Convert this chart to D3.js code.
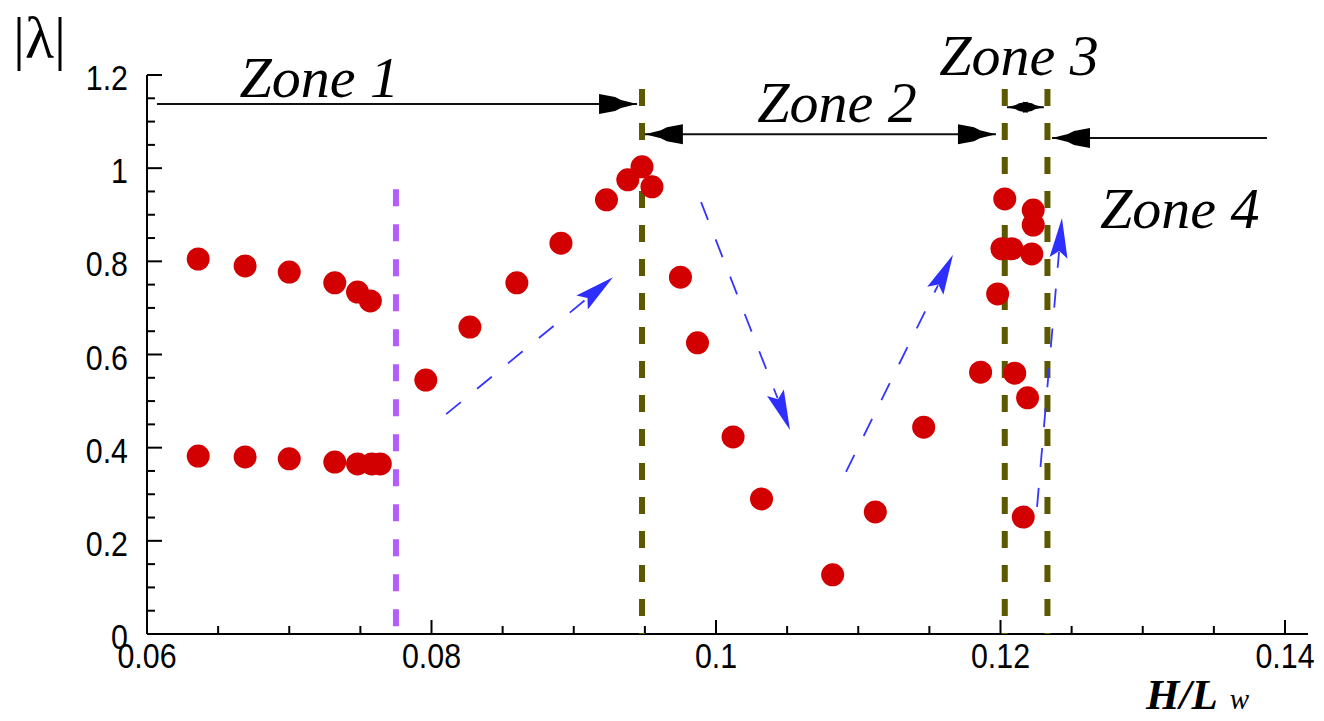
<!DOCTYPE html>
<html><head><meta charset="utf-8">
<script src="https://cdn.jsdelivr.net/npm/d3@7"></script>
<style>body{margin:0;background:#fff}svg{display:block}</style>
</head><body><svg id="c" width="1324" height="721"></svg>
<script>
// ---- data ----
const xTicks = [0.06, 0.08, 0.10, 0.12, 0.14];
const xTickLabels = ["0.06", "0.08", "0.1", "0.12", "0.14"];
const yTicks = [0, 0.2, 0.4, 0.6, 0.8, 1.0, 1.2];
const yTickLabels = ["0", "0.2", "0.4", "0.6", "0.8", "1", "1.2"];

const lowerX = [0.0636, 0.0669, 0.0700, 0.0732, 0.0748, 0.0758, 0.0764];
const lowerY = [0.382, 0.380, 0.376, 0.369, 0.365, 0.365, 0.365];

const upperX = [0.0636, 0.0669, 0.0700, 0.0732, 0.0748, 0.0757];
const upperY = [0.805, 0.790, 0.777, 0.754, 0.734, 0.715];

const mainX = [0.0796, 0.0827, 0.0860, 0.0891, 0.0923, 0.0938, 0.0948, 0.0955,
               0.0975, 0.0987, 0.1012, 0.1032, 0.1082, 0.1112, 0.1146, 0.1186,
               0.1198, 0.1203, 0.1201, 0.1208, 0.1210, 0.1219, 0.1216, 0.1223,
               0.1223, 0.1222];
const mainY = [0.545, 0.659, 0.754, 0.839, 0.932, 0.975, 1.003, 0.960,
               0.766, 0.625, 0.423, 0.290, 0.127, 0.262, 0.444, 0.562,
               0.730, 0.934, 0.827, 0.827, 0.560, 0.507, 0.251, 0.910,
               0.878, 0.816];

const purpleLineX = [0.0775];
const purpleLineTop = [0.955];
const zoneBoundX = [0.0948, 0.1203, 0.1233];
const zoneBoundTop = 1.17;

const zoneNames = ["Zone 1", "Zone 2", "Zone 3", "Zone 4"];
const zoneLabelX = [0.0665, 0.1029, 0.1157, 0.1270];
const zoneLabelY = [1.153, 1.099, 1.200, 0.872];

// zone arrows: [x0, x1, y, headAtStart, headAtEnd, headScale]
const zoneArrows = [
  [0.0607, 0.09445, 1.138, false, true, 1],
  [0.0950, 0.11968, 1.073, true, true, 1],
  [0.12045, 0.12305, 1.131, true, true, 0.55],
  [0.13873, 0.12362, 1.065, false, true, 1]
];
// trend arrows: [x0, y0, x1, y1]
const trendArrows = [
  [0.08103, 0.472, 0.09276, 0.766],
  [0.09895, 0.927, 0.10520, 0.438],
  [0.10914, 0.348, 0.11666, 0.814],
  [0.12257, 0.273, 0.12432, 0.893]
];

// ---- drawing ----
const svg = d3.select("#c");
const x = d3.scaleLinear().domain([0.06, 0.14]).range([147, 1285]);
const y = d3.scaleLinear().domain([0, 1.2]).range([634, 75]);
const axisRight = 1308;

// axis lines
svg.append("line").attr("x1", x(0.06)).attr("x2", axisRight)
  .attr("y1", y(0)).attr("y2", y(0)).attr("stroke", "#000").attr("stroke-width", 2);
svg.append("line").attr("x1", x(0.06)).attr("x2", x(0.06))
  .attr("y1", y(0)).attr("y2", y(1.2)).attr("stroke", "#000").attr("stroke-width", 2);

// x ticks
const xMinor = d3.range(0.06, 0.14001, 0.005);
svg.append("g").selectAll("line").data(xMinor).join("line")
  .attr("x1", d => x(d)).attr("x2", d => x(d))
  .attr("y1", y(0)).attr("y2", (d, i) => y(0) - (i % 4 === 0 ? 14 : 8))
  .attr("stroke", "#000").attr("stroke-width", 2);
svg.append("g").selectAll("text").data(xTicks).join("text")
  .attr("transform", d => `translate(${x(d)},${y(0) + 34}) scale(0.95,1.08)`)
  .attr("text-anchor", "middle")
  .style("font-family", "'Liberation Sans', Arial, sans-serif")
  .style("font-size", "32px")
  .text((d, i) => xTickLabels[i]);

// y ticks
const yMinor = d3.range(0, 1.2001, 0.05);
svg.append("g").selectAll("line").data(yMinor).join("line")
  .attr("x1", x(0.06)).attr("x2", (d, i) => x(0.06) + (i % 4 === 0 ? 15 : 8))
  .attr("y1", d => y(d)).attr("y2", d => y(d))
  .attr("stroke", "#000").attr("stroke-width", 2);
svg.append("g").selectAll("text").data(yTicks).join("text")
  .attr("transform", d => `translate(${x(0.06) - 19},${y(d) + 15}) scale(0.95,1.08)`)
  .attr("text-anchor", "end")
  .style("font-family", "'Liberation Sans', Arial, sans-serif")
  .style("font-size", "32px")
  .text((d, i) => yTickLabels[i]);

// axis titles
svg.append("text").attr("x", 13).attr("y", 58)
  .style("font-family", "'Liberation Serif', 'Times New Roman', serif")
  .style("font-size", "60px")
  .text("|λ|");
const xt = svg.append("text").attr("x", 1146).attr("y", 709)
  .style("font-family", "'Liberation Serif', 'Times New Roman', serif")
  .style("font-style", "italic");
xt.append("tspan").style("font-size", "43px").style("font-weight", "bold").text("H/L");
xt.append("tspan").attr("dx", 12).style("font-size", "29px").text("w");

// vertical dashed lines
svg.append("g").selectAll("line").data(purpleLineX).join("line")
  .attr("x1", d => x(d)).attr("x2", d => x(d))
  .attr("y1", (d, i) => y(purpleLineTop[i])).attr("y2", y(0))
  .attr("stroke", "#b35cff").attr("stroke-width", 6)
  .attr("stroke-dasharray", "17,18");
svg.append("g").selectAll("line").data(zoneBoundX).join("line")
  .attr("x1", d => x(d)).attr("x2", d => x(d))
  .attr("y1", y(zoneBoundTop)).attr("y2", y(0))
  .attr("stroke", "#5c5800").attr("stroke-width", 6)
  .attr("stroke-dasharray", "17,17");

// arrowhead helper
function head(g, tx, ty, ang, shape, color, s) {
  const pts = shape.map(([px, py]) => {
    const X = px * s, Y = py * s;
    return [tx + X * Math.cos(ang) - Y * Math.sin(ang), ty + X * Math.sin(ang) + Y * Math.cos(ang)];
  });
  g.append("polygon").attr("points", pts.map(p => p.join(",")).join(" ")).attr("fill", color);
}
const blackHead = [[0, 0], [-16, -4], [-22, -7], [-38, -10], [-38, 10], [-22, 7], [-16, 4]];
const blueHead = [[0, 0], [-40, -9], [-33, 0], [-40, 9]];

// zone arrows
const za = svg.append("g");
zoneArrows.forEach(([x0, x1, yy, hs, he, sc]) => {
  const X0 = x(x0), X1 = x(x1), Y = y(yy);
  za.append("line").attr("x1", X0).attr("x2", X1).attr("y1", Y).attr("y2", Y)
    .attr("stroke", "#111").attr("stroke-width", 2);
  const dir = X1 > X0 ? 0 : Math.PI;
  if (he) head(za, X1, Y, dir, blackHead, "#000", sc);
  if (hs) head(za, X0, Y, dir + Math.PI, blackHead, "#000", sc);
});

// zone labels
svg.append("g").selectAll("text").data(zoneNames).join("text")
  .attr("x", (d, i) => x(zoneLabelX[i])).attr("y", (d, i) => y(zoneLabelY[i]))
  .style("font-family", "'Liberation Serif', 'Times New Roman', serif")
  .style("font-style", "italic").style("font-size", "58px")
  .text(d => d);

// trend arrows
const ta = svg.append("g");
trendArrows.forEach(([x0, y0, x1, y1]) => {
  const X0 = x(x0), Y0 = y(y0), X1 = x(x1), Y1 = y(y1);
  const ang = Math.atan2(Y1 - Y0, X1 - X0);
  const L = Math.hypot(X1 - X0, Y1 - Y0) - 34;
  ta.append("line").attr("x1", X0).attr("y1", Y0)
    .attr("x2", X0 + L * Math.cos(ang)).attr("y2", Y0 + L * Math.sin(ang))
    .attr("stroke", "#3535ff").attr("stroke-width", 1.8)
    .attr("stroke-dasharray", "19,21");
  head(ta, X1, Y1, ang, blueHead, "#2e2eff", 1);
});

// data points
const pts = svg.append("g").attr("fill", "#d20000");
const allX = lowerX.concat(upperX, mainX);
const allY = lowerY.concat(upperY, mainY);
pts.selectAll("circle").data(allX).join("circle")
  .attr("cx", d => x(d)).attr("cy", (d, i) => y(allY[i])).attr("r", 11.5);
</script></body></html>
